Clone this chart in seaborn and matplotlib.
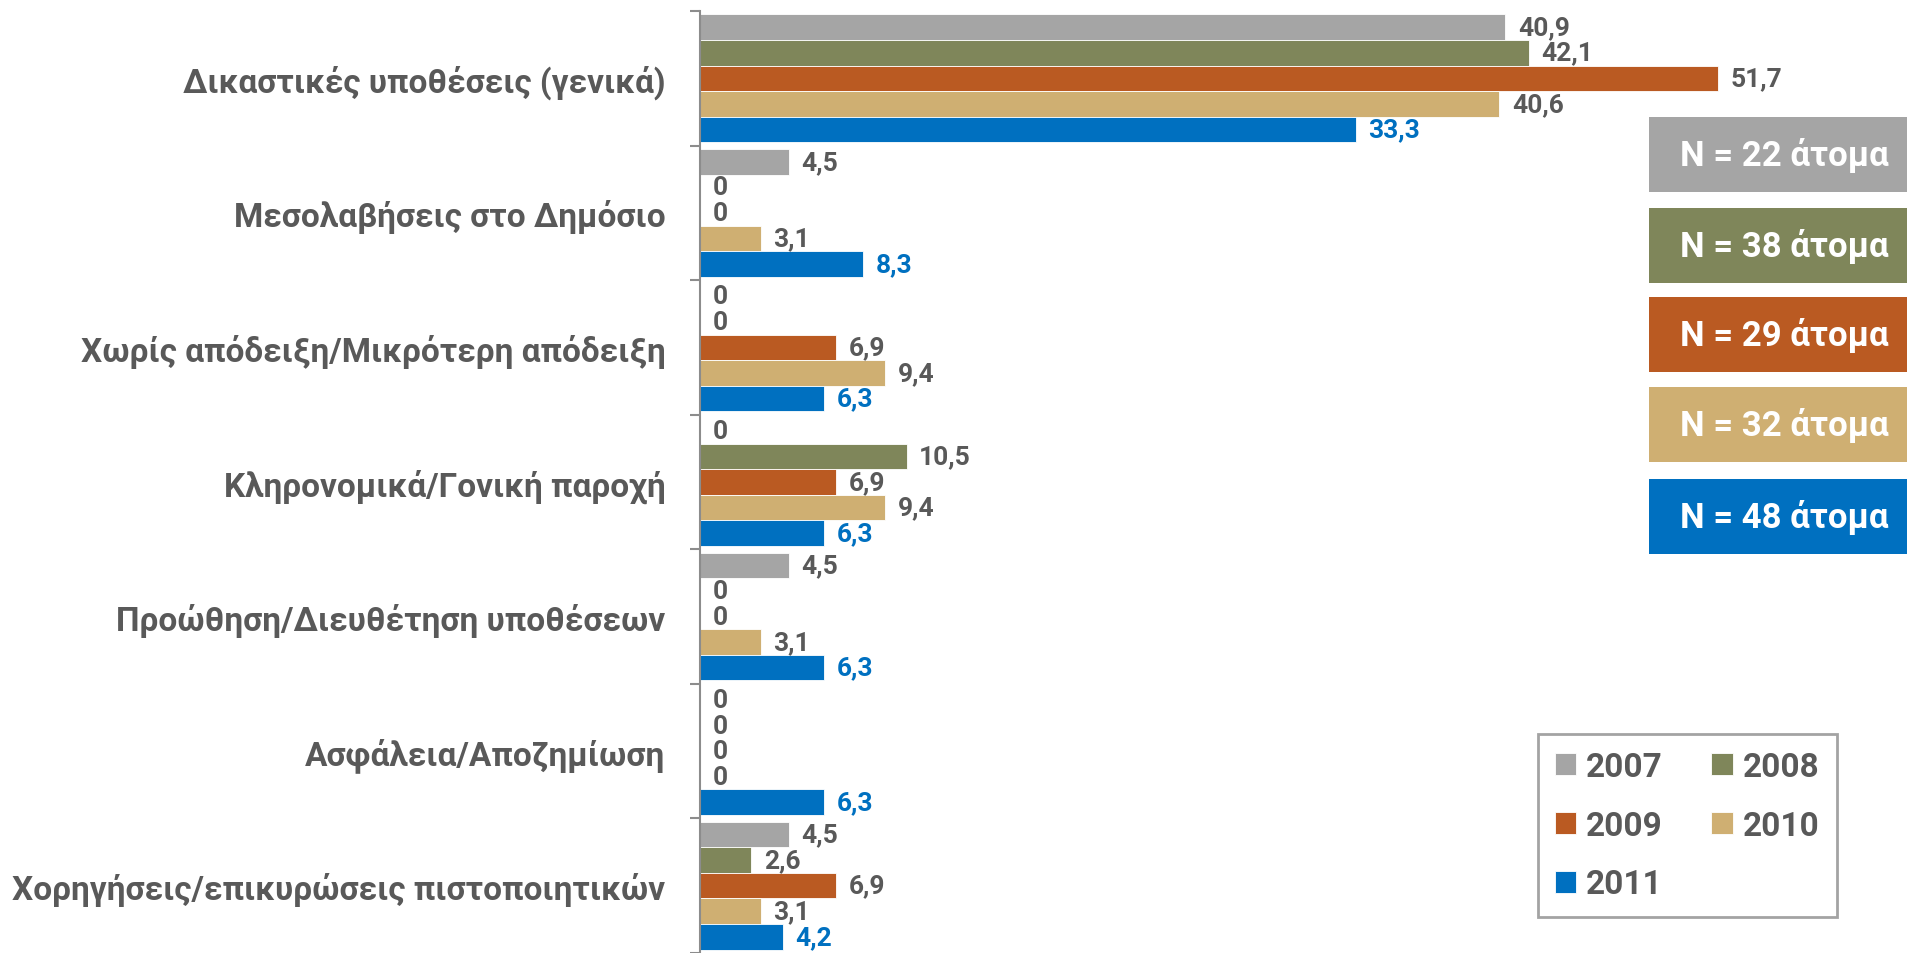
import matplotlib
matplotlib.use("Agg")
import matplotlib.pyplot as plt
from matplotlib.patches import Rectangle
import pandas as pd
import seaborn as sns

categories = [
    "Δικαστικές υποθέσεις (γενικά)",
    "Μεσολαβήσεις στο Δημόσιο",
    "Χωρίς απόδειξη/Μικρότερη απόδειξη",
    "Κληρονομικά/Γονική παροχή",
    "Προώθηση/Διευθέτηση υποθέσεων",
    "Ασφάλεια/Αποζημίωση",
    "Χορηγήσεις/επικυρώσεις πιστοποιητικών",
]
years = ["2007", "2008", "2009", "2010", "2011"]
v2007 = [40.9, 4.5, 0, 0, 4.5, 0, 4.5]
v2008 = [42.1, 0, 0, 10.5, 0, 0, 2.6]
v2009 = [51.7, 0, 6.9, 6.9, 0, 0, 6.9]
v2010 = [40.6, 3.1, 9.4, 9.4, 3.1, 0, 3.1]
v2011 = [33.3, 8.3, 6.3, 6.3, 6.3, 6.3, 4.2]
sample_labels = ["N = 22 άτομα", "N = 38 άτομα", "N = 29 άτομα",
                 "N = 32 άτομα", "N = 48 άτομα"]

colors = ["#A5A5A5", "#7F865A", "#BA5A22", "#CFAF72", "#0070C0"]
text_grey = "#595959"

series = [v2007, v2008, v2009, v2010, v2011]
df = pd.DataFrame({
    "category": categories * len(years),
    "year": [y for y in years for _ in categories],
    "value": [v for s in series for v in s],
})

sns.set_theme(style="white")
plt.rcParams["font.family"] = ["Roboto", "DejaVu Sans"]
plt.rcParams["font.weight"] = "bold"

fig = plt.figure(figsize=(19.07, 9.54), dpi=100)
ax = fig.add_axes([700 / 1907, 0, 1 - 700 / 1907, 1 - 12 / 954])

sns.barplot(data=df, y="category", x="value", hue="year", order=categories,
            hue_order=years, palette=colors, saturation=1, width=0.95,
            orient="h", edgecolor="white", linewidth=0.6, ax=ax)

ax.set_xlim(0, 61.3)
ax.set_ylim(6.5, -0.5)
ax.set_xlabel("")
ax.set_ylabel("")
ax.set_xticks([])
for side in ["top", "right", "bottom"]:
    ax.spines[side].set_visible(False)
ax.spines["left"].set_color("#8C8C8C")
ax.spines["left"].set_linewidth(1.5)

ax.set_yticks([i + 0.5 for i in range(-1, len(categories))], minor=True)
ax.tick_params(axis="y", which="minor", left=True, length=7, width=1.5,
               color="#8C8C8C")
ax.tick_params(axis="y", which="major", length=0, pad=25)
for lab in ax.get_yticklabels():
    lab.set_fontsize(24)
    lab.set_fontweight("bold")
    lab.set_color(text_grey)

for i, cont in enumerate(ax.containers):
    vals = series[i]
    labels = ["0" if v == 0 else f"{v:.1f}".replace(".", ",") for v in vals]
    col = colors[4] if i == 4 else text_grey
    ax.bar_label(cont, labels=labels, padding=9, fontsize=19,
                 fontweight="bold", color=col)

handles, labs = ax.get_legend_handles_labels()
ax.get_legend().remove()
order = [0, 2, 4, 1, 3]
leg = fig.legend([handles[k] for k in order], [labs[k] for k in order],
                 ncol=2, loc="lower left", bbox_to_anchor=(1538 / 1907, 36 / 954),
                 borderaxespad=0, fontsize=24, frameon=True, fancybox=False,
                 handlelength=0.65, handleheight=0.65, handletextpad=0.3,
                 columnspacing=1.45, labelspacing=0.8, borderpad=0.5)
leg.get_frame().set_edgecolor("#8C8C8C")
leg.get_frame().set_linewidth(2)
for t in leg.get_texts():
    t.set_color(text_grey)
    t.set_fontweight("bold")

# sample-size boxes at the right
box_tops = [118, 209, 298, 388, 480]
box_h = 75
for top, lab, col in zip(box_tops, sample_labels, colors):
    fig.patches.append(Rectangle((1649 / 1907, 1 - (top + box_h) / 954),
                                 (1907 - 1649) / 1907, box_h / 954,
                                 transform=fig.transFigure, facecolor=col,
                                 edgecolor="none"))
    fig.text(1784 / 1907, 1 - (top + box_h / 2) / 954, lab, color="white",
             fontsize=25, fontweight="bold", ha="center", va="center")

fig.savefig("out.png", dpi=100)
